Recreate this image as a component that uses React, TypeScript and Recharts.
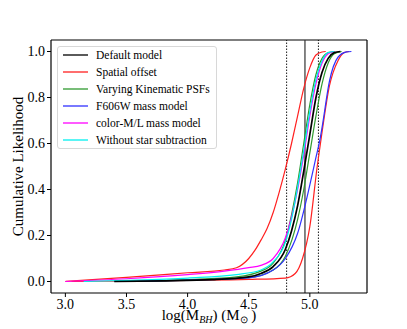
import { Line, LineChart, ReferenceLine, XAxis, YAxis } from 'recharts'

type Pt = [number, number]

// cumulative likelihood curves as [logM, cdf]
const defaultModel: Pt[] = [
  [3.4, 0], [3.8, 0.003], [4.2, 0.008], [4.5, 0.02], [4.6, 0.035], [4.7, 0.065], [4.8, 0.14],
  [4.85, 0.22], [4.9, 0.33], [4.95, 0.48], [5.0, 0.64], [5.05, 0.8], [5.1, 0.91], [5.15, 0.97],
  [5.2, 0.995], [5.25, 1.0],
]
const spatialOffsetLow: Pt[] = [
  [3.0, 0], [3.5, 0.018], [4.0, 0.038], [4.3, 0.05], [4.4, 0.06], [4.5, 0.1], [4.55, 0.135],
  [4.6, 0.18], [4.65, 0.23], [4.7, 0.3], [4.75, 0.39], [4.8, 0.49], [4.85, 0.6], [4.9, 0.72],
  [4.95, 0.84], [5.0, 0.93], [5.05, 0.985], [5.1, 0.998], [5.13, 1.0],
]
const spatialOffsetHigh: Pt[] = [
  [3.05, 0], [3.5, 0.002], [4.0, 0.005], [4.5, 0.009], [4.8, 0.015], [4.88, 0.035], [4.94, 0.1],
  [5.0, 0.24], [5.06, 0.5], [5.1, 0.65], [5.16, 0.85], [5.23, 0.96], [5.28, 0.995], [5.32, 1.0],
]
const kinPsfA: Pt[] = [
  [3.5, 0], [4.0, 0.008], [4.4, 0.02], [4.6, 0.045], [4.7, 0.08], [4.8, 0.18], [4.85, 0.29],
  [4.9, 0.43], [4.95, 0.6], [5.0, 0.77], [5.05, 0.9], [5.1, 0.97], [5.15, 0.995], [5.2, 1.0],
]
const kinPsfB: Pt[] = [
  [3.6, 0], [4.0, 0.006], [4.5, 0.017], [4.7, 0.05], [4.8, 0.11], [4.9, 0.27], [4.95, 0.4],
  [5.0, 0.56], [5.05, 0.72], [5.1, 0.86], [5.15, 0.95], [5.2, 0.99], [5.26, 1.0],
]
const f606wModel: Pt[] = [
  [3.4, 0], [4.0, 0.006], [4.5, 0.016], [4.7, 0.05], [4.8, 0.1], [4.9, 0.21], [5.0, 0.42],
  [5.05, 0.54], [5.08, 0.61], [5.1, 0.67], [5.16, 0.87], [5.23, 0.975], [5.3, 0.998], [5.34, 1.0],
]
const colorMLModel: Pt[] = [
  [3.0, 0], [3.5, 0.012], [4.0, 0.03], [4.3, 0.045], [4.5, 0.06], [4.6, 0.07], [4.7, 0.1],
  [4.8, 0.19], [4.85, 0.28], [4.9, 0.4], [4.95, 0.55], [5.0, 0.72], [5.05, 0.86], [5.1, 0.95],
  [5.15, 0.99], [5.2, 1.0],
]
const noStarSub: Pt[] = [
  [3.15, 0], [3.5, 0.005], [4.0, 0.015], [4.4, 0.03], [4.6, 0.05], [4.7, 0.085], [4.8, 0.17],
  [4.85, 0.27], [4.9, 0.41], [4.95, 0.57], [5.0, 0.74], [5.05, 0.88], [5.1, 0.96], [5.15, 0.995],
  [5.2, 1.0],
]

const bestFit = 4.96
const lowerBound = 4.81
const upperBound = 5.07

const xTicks = [3.0, 3.5, 4.0, 4.5, 5.0]
const yTicks = [0, 0.2, 0.4, 0.6, 0.8, 1.0]
const xDomain = [2.8825, 5.4675]
const yDomain = [-0.05, 1.05]

const legendNames = [
  'Default model',
  'Spatial offset',
  'Varying Kinematic PSFs',
  'F606W mass model',
  'color-M/L mass model',
  'Without star subtraction',
]
const legendColors = ['#000000', '#ff2020', '#2f9a2f', '#3030ff', '#ff00ff', '#00f0f0']

const toRows = (pts: Pt[]) => pts.map(([x, y]) => ({ x, y }))

const FONT = "'Liberation Serif', 'Times New Roman', Times, serif"

function LegendBox() {
  return (
    <div
      style={{
        position: 'absolute',
        left: 57,
        top: 46,
        width: 160,
        height: 103,
        border: '1px solid #d8d8d8',
        borderRadius: 3,
        background: 'rgba(255,255,255,0.85)',
        fontFamily: FONT,
        fontSize: 11.5,
        color: '#000',
        boxSizing: 'border-box',
      }}
    >
      {legendNames.map((name, i) => (
        <div key={name} style={{ height: 16.9, display: 'flex', alignItems: 'center' }}>
          <svg width={38} height={4} style={{ flex: 'none' }}>
            <line x1={5} x2={30} y1={2} y2={2} stroke={legendColors[i]} strokeWidth={1.3} />
          </svg>
          <span style={{ whiteSpace: 'nowrap' }}>{name}</span>
        </div>
      ))}
    </div>
  )
}

// x-axis title with subscripts, laid out as html so the subscripts sit inline
function XTitle() {
  const sub = { fontSize: 10, verticalAlign: 'baseline', position: 'relative' as const, top: 3 }
  return (
    <div
      style={{
        position: 'absolute',
        left: 51,
        width: 316,
        top: 306,
        textAlign: 'center',
        fontFamily: FONT,
        fontSize: 15,
        lineHeight: '18px',
        color: '#000',
        whiteSpace: 'nowrap',
      }}
    >
      log(M<span style={{ ...sub, fontStyle: 'italic' }}>BH</span>) (M<span style={sub}>⊙</span>&nbsp;)
    </div>
  )
}

function YLabel(props: any) {
  const vb = props.viewBox || {}
  const cy = vb.y + vb.height / 2
  return (
    <text
      x={18}
      y={cy}
      transform={`rotate(-90, 18, ${cy})`}
      textAnchor="middle"
      dominantBaseline="central"
      style={{ fontFamily: FONT }}
      fontSize={15}
      fill="#000"
    >
      Cumulative Likelihood
    </text>
  )
}

const tickStyle = { fontSize: 14, fill: '#000', fontFamily: FONT }

export default function App() {
  const series = [
    { data: spatialOffsetLow, color: legendColors[1] },
    { data: spatialOffsetHigh, color: legendColors[1] },
    { data: kinPsfA, color: legendColors[2] },
    { data: kinPsfB, color: legendColors[2] },
    { data: f606wModel, color: legendColors[3] },
    { data: colorMLModel, color: legendColors[4] },
    { data: noStarSub, color: legendColors[5] },
  ]
  return (
    <div style={{ position: 'absolute', left: 0, top: 0, width: 407, height: 329, background: '#fff', fontFamily: FONT }}>
      <LineChart width={407} height={329} margin={{ top: 40, right: 40, bottom: 0, left: 0 }}>
        <XAxis
          type="number"
          dataKey="x"
          domain={xDomain}
          ticks={xTicks}
          allowDataOverflow
          tickFormatter={(v: number) => v.toFixed(1)}
          tick={tickStyle}
          tickSize={4}
          tickMargin={2}
          height={36}
          stroke="#000"
          tickLine={{ stroke: '#000' }}
          axisLine={{ stroke: '#000', strokeWidth: 1.2 }}
        />
        <YAxis
          type="number"
          dataKey="y"
          domain={yDomain}
          ticks={yTicks}
          allowDataOverflow
          tickFormatter={(v: number) => v.toFixed(1)}
          tick={tickStyle}
          tickSize={4}
          tickMargin={2}
          width={51}
          stroke="#000"
          tickLine={{ stroke: '#000' }}
          axisLine={{ stroke: '#000', strokeWidth: 1.2 }}
          label={<YLabel />}
        />
        <ReferenceLine y={yDomain[1]} stroke="#000" strokeWidth={1.2} />
        <ReferenceLine x={xDomain[1]} stroke="#000" strokeWidth={1.2} />
        <ReferenceLine x={lowerBound} stroke="#000" strokeWidth={0.9} strokeDasharray="1.5 1.5" />
        <ReferenceLine x={upperBound} stroke="#000" strokeWidth={0.9} strokeDasharray="1.5 1.5" />
        <ReferenceLine x={bestFit} stroke="#333" strokeWidth={1.2} />
        {series.map((s, i) => (
          <Line
            key={i}
            data={toRows(s.data)}
            dataKey="y"
            type="monotone"
            stroke={s.color}
            strokeWidth={1.2}
            dot={false}
            isAnimationActive={false}
          />
        ))}
        <Line
          data={toRows(defaultModel)}
          dataKey="y"
          type="monotone"
          stroke="#000"
          strokeWidth={1.7}
          dot={false}
          isAnimationActive={false}
        />
      </LineChart>
      <LegendBox />
      <XTitle />
    </div>
  )
}
